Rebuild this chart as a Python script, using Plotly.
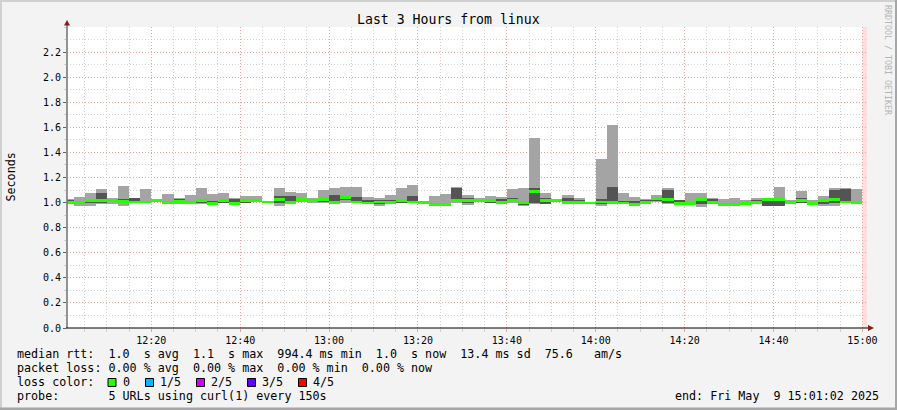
import plotly.graph_objects as go
from datetime import datetime, timedelta

# ---- data (5 pings per 150 s step, sorted: p1 <= p2 <= median <= p4 <= p5), seconds
p5 = [1.03, 1.045, 1.08, 1.11, 1.04, 1.135, 1.04, 1.11, 1.02, 1.07,
      1.04, 1.06, 1.12, 1.065, 1.08, 1.035, 1.05, 1.05, 1.01, 1.12,
      1.087, 1.08, 1.035, 1.1, 1.113, 1.124, 1.124, 1.045, 1.04, 1.06,
      1.12, 1.143, 1.01, 1.05, 1.067, 1.127, 1.06, 1.035, 1.05, 1.042,
      1.105, 1.12, 1.515, 1.08, 1.02, 1.06, 1.04, 1.005, 1.347, 1.618,
      1.075, 1.045, 1.03, 1.06, 1.115, 1.022, 1.075, 1.075, 1.04, 1.03,
      1.04, 1.02, 1.04, 1.03, 1.125, 1.02, 1.09, 1.02, 1.05, 1.115,
      1.115, 1.11]
p4 = [1.02, 1.005, 1.03, 1.08, 1.025, 1.025, 1.035, 1.01, 1.018, 1.01,
      1.03, 1.01, 1.03, 1.01, 1.025, 1.03, 1.03, 1.02, 1.008, 1.05,
      1.05, 1.03, 1.03, 1.03, 1.06, 1.045, 1.045, 1.02, 1.02, 1.02,
      1.025, 1.05, 1.008, 1.0, 1.0, 1.12, 1.04, 1.02, 1.02, 1.03,
      1.04, 1.01, 1.12, 1.04, 1.018, 1.035, 1.02, 1.0, 1.028, 1.125,
      1.01, 1.015, 1.02, 1.045, 1.1, 1.02, 1.005, 1.04, 1.03, 0.995,
      1.0, 1.0, 1.02, 1.028, 1.04, 1.015, 1.04, 1.0, 1.03, 1.1,
      1.105, 1.005]
median = [1.005, 0.998, 1.02, 1.02, 1.02, 1.008, 1.005, 1.005, 1.015, 1.005,
          1.008, 1.005, 1.02, 0.995, 1.02, 0.99, 1.02, 1.015, 1.005, 1.025,
          1.005, 1.025, 1.015, 1.022, 1.005, 1.04, 1.005, 0.997, 1.005, 1.003,
          1.017, 1.005, 1.003, 0.988, 0.987, 1.015, 1.015, 1.013, 1.015, 1.003,
          1.02, 1.003, 1.085, 1.015, 1.015, 1.0, 1.003, 0.997, 1.005, 1.0,
          0.997, 0.985, 1.0, 1.03, 1.025, 0.995, 0.995, 1.025, 1.003, 0.985,
          0.987, 0.993, 1.0, 1.022, 1.025, 1.003, 1.017, 0.99, 1.015, 1.025,
          1.005, 1.0]
p2 = [0.995, 0.99, 1.0, 1.0, 1.005, 1.0, 1.0, 0.998, 1.012, 1.0,
      1.0, 0.995, 0.995, 0.99, 0.998, 0.985, 1.0, 1.01, 1.0, 1.0,
      0.998, 1.01, 1.005, 1.005, 0.995, 1.02, 1.0, 0.99, 0.99, 0.995,
      1.0, 1.0, 0.99, 0.982, 0.983, 1.005, 1.0, 1.01, 1.0, 0.998,
      1.005, 0.98, 0.995, 0.99, 1.01, 0.995, 0.998, 0.99, 0.99, 0.995,
      0.99, 0.98, 0.995, 1.01, 1.0, 0.99, 0.99, 0.99, 0.99, 0.98,
      0.98, 0.99, 0.995, 0.975, 0.975, 0.99, 1.0, 0.985, 0.99, 1.0,
      1.0, 0.99]
p1 = [0.985, 0.975, 0.975, 0.99, 0.99, 0.975, 0.995, 0.995, 1.01, 0.99,
      0.985, 0.985, 0.985, 0.985, 0.995, 0.98, 0.995, 1.005, 0.998, 0.975,
      0.99, 1.005, 1.0, 1.0, 0.985, 0.995, 0.995, 0.985, 0.975, 0.99,
      0.995, 0.995, 0.985, 0.98, 0.98, 0.998, 0.98, 1.005, 0.995, 0.995,
      1.0, 0.972, 0.99, 0.985, 1.005, 0.985, 0.995, 0.985, 0.975, 0.985,
      0.985, 0.975, 0.99, 1.005, 0.99, 0.988, 0.985, 0.965, 0.985, 0.975,
      0.975, 0.985, 0.99, 0.97, 0.97, 0.988, 0.995, 0.983, 0.975, 0.97,
      0.998, 0.988]

step_start = "2025-05-09 12:00:00"
step_seconds = 150
x_start = "2025-05-09 12:01:02"
x_end = "2025-05-09 15:01:02"
last_data = "2025-05-09 15:00:00"

y_ticks = [0.0, 0.2, 0.4, 0.6, 0.8, 1.0, 1.2, 1.4, 1.6, 1.8, 2.0, 2.2]

loss_labels = ["0", "1/5", "2/5", "3/5", "4/5"]
loss_colors = ["#26ff00", "#00b8ff", "#d400ff", "#5e00ff", "#ff0000"]

legend_lines = [
    "median rtt:  1.0  s avg  1.1  s max  994.4 ms min  1.0  s now  13.4 ms sd  75.6   am/s",
    "packet loss: 0.00 % avg  0.00 % max  0.00 % min  0.00 % now",
    "loss color:",
    "probe:       5 URLs using curl(1) every 150s",
]
end_text = "end: Fri May  9 15:01:02 2025"
title_text = "Last 3 Hours from linux"
y_title = "Seconds"
side_text = "RRDTOOL / TOBI OETIKER"

# ---- geometry
W, H = 897, 410
PL, PR, PT, PB = 67, 867, 27, 328
def fx(px):
    return (px - PL) / (PR - PL)
def fy(py):
    return (PB - py) / (PB - PT)

t0 = datetime.strptime(step_start, "%Y-%m-%d %H:%M:%S")
centers = [t0 + timedelta(seconds=step_seconds * (k + 0.5)) for k in range(len(median))]
wid = step_seconds * 1000

MONO = "DejaVu Sans Mono"
fig = go.Figure()

# outer smoke (p1..p5)
fig.add_trace(go.Bar(x=centers, base=p1, y=[b - a for a, b in zip(p1, p5)], width=wid,
                     marker=dict(color="#a4a4a4", line=dict(width=0)), hoverinfo="skip"))
# inner smoke (p2..p4)
fig.add_trace(go.Bar(x=centers, base=p2, y=[b - a for a, b in zip(p2, p4)], width=wid,
                     marker=dict(color="#545454", line=dict(width=0)), hoverinfo="skip"))
# median band (green, loss 0)
thick = 0.023
fig.add_trace(go.Bar(x=centers, base=[m - thick / 2 for m in median], y=[thick] * len(median), width=wid,
                     marker=dict(color=loss_colors[0], line=dict(width=0)), hoverinfo="skip"))

shapes = []
# pink "future" band
shapes.append(dict(type="rect", xref="x", yref="paper", x0=last_data, x1=x_end, y0=0, y1=1,
                   fillcolor="#ffdede", line=dict(width=0), layer="below"))
# axes lines
shapes.append(dict(type="line", xref="paper", yref="paper", x0=fx(67), x1=fx(67), y0=fy(328), y1=fy(23),
                   line=dict(color="#707070", width=1.5)))
shapes.append(dict(type="line", xref="paper", yref="paper", x0=fx(66), x1=fx(870), y0=fy(328), y1=fy(328),
                   line=dict(color="#000000", width=1.2)))
# arrows
def path(pts):
    return "M " + " L ".join(f"{fx(a)},{fy(b)}" for a, b in pts) + " Z"
shapes.append(dict(type="path", xref="paper", yref="paper", path=path([(64, 25.5), (70, 25.5), (67, 20)]),
                   fillcolor="#8b1a1a", line=dict(width=0)))
shapes.append(dict(type="path", xref="paper", yref="paper", path=path([(868, 325), (868, 331), (874, 328)]),
                   fillcolor="#8b1a1a", line=dict(width=0)))
# frame
shapes.append(dict(type="rect", xref="paper", yref="paper", x0=fx(0), x1=fx(W), y0=fy(0), y1=fy(2),
                   fillcolor="#d0d0d0", line=dict(width=0)))
shapes.append(dict(type="rect", xref="paper", yref="paper", x0=fx(0), x1=fx(2), y0=fy(0), y1=fy(H),
                   fillcolor="#d0d0d0", line=dict(width=0)))
shapes.append(dict(type="rect", xref="paper", yref="paper", x0=fx(0), x1=fx(W), y0=fy(407.5), y1=fy(H),
                   fillcolor="#a6a6a6", line=dict(width=0)))
shapes.append(dict(type="rect", xref="paper", yref="paper", x0=fx(W - 2), x1=fx(W), y0=fy(0), y1=fy(H),
                   fillcolor="#a6a6a6", line=dict(width=0)))

annotations = []
LFS = 11.7
line_y = [354, 368, 382, 396]
for i, txt in enumerate(legend_lines):
    annotations.append(dict(xref="paper", yref="paper", x=fx(15), y=fy(line_y[i]), xanchor="left",
                            yanchor="middle", showarrow=False, text=txt.replace(" ", "\u00a0"),
                            font=dict(family=MONO, size=LFS, color="#000")))
box_x = [108, 145.5, 196.5, 247.5, 298.5]
for bx, lab, col in zip(box_x, loss_labels, loss_colors):
    shapes.append(dict(type="rect", xref="paper", yref="paper", x0=fx(bx), x1=fx(bx + 8),
                       y0=fy(378.5), y1=fy(386.5), fillcolor=col, line=dict(color="#000", width=1)))
    annotations.append(dict(xref="paper", yref="paper", x=fx(bx + 12.5), y=fy(line_y[2]), xanchor="left",
                            yanchor="middle", showarrow=False, text=lab,
                            font=dict(family=MONO, size=LFS, color="#000")))
annotations.append(dict(xref="paper", yref="paper", x=fx(881), y=fy(line_y[3]), xanchor="right",
                        yanchor="middle", showarrow=False, text=end_text.replace(" ", "\u00a0"),
                        font=dict(family=MONO, size=LFS, color="#000")))
annotations.append(dict(xref="paper", yref="paper", x=fx(448.5), y=fy(19), xanchor="center",
                        yanchor="middle", showarrow=False, text=title_text,
                        font=dict(family=MONO, size=13.2, color="#000")))
annotations.append(dict(xref="paper", yref="paper", x=fx(10), y=fy(177.5), xanchor="center",
                        yanchor="middle", showarrow=False, text=y_title, textangle=-90,
                        font=dict(family=MONO, size=LFS, color="#000")))
annotations.append(dict(xref="paper", yref="paper", x=fx(888), y=fy(60), xanchor="center",
                        yanchor="middle", showarrow=False, text=side_text.replace(" ", "\u00a0"), textangle=90,
                        font=dict(family=MONO, size=8.3, color="#b4b4b4")))

fig.update_layout(
    width=W, height=H,
    margin=dict(l=PL, r=W - PR, t=PT, b=H - PB, autoexpand=False),
    paper_bgcolor="#f3f3f3", plot_bgcolor="#ffffff",
    barmode="overlay", bargap=0, showlegend=False,
    shapes=shapes, annotations=annotations,
    xaxis=dict(type="date", range=[x_start, x_end], tick0="2025-05-09 12:00:00", dtick=1200000,
               tickformat="%H:%M", showgrid=True, gridcolor="#f2a0a0", griddash="1px,2px", gridwidth=1,
               ticks="outside", ticklen=3, tickcolor="#f2a0a0", showline=False, zeroline=False,
               tickfont=dict(family=MONO, size=10, color="#000"), layer="above traces",
               minor=dict(dtick=300000, tick0="2025-05-09 12:00:00", showgrid=True, gridcolor="#d0d0d0",
                          griddash="1px,2px", ticks="outside", ticklen=3, tickcolor="#d0d0d0")),
    yaxis=dict(range=[0, 2.4], tickmode="array", tickvals=y_ticks,
               ticktext=[f"{v:.1f}" for v in y_ticks], showgrid=True, gridcolor="#f2a0a0",
               griddash="1px,2px", gridwidth=1, ticks="outside", ticklen=3, tickcolor="#606060",
               showline=False, zeroline=False, layer="above traces",
               tickfont=dict(family=MONO, size=10, color="#000"),
               minor=dict(dtick=0.1, tick0=0, showgrid=True, gridcolor="#d0d0d0", griddash="1px,2px",
                          ticks="outside", ticklen=2, tickcolor="#d0d0d0")),
)

fig.write_html("out.html", config={"displayModeBar": False, "staticPlot": True},
               post_script="document.body.style.margin='0';document.body.style.overflow='hidden';")
